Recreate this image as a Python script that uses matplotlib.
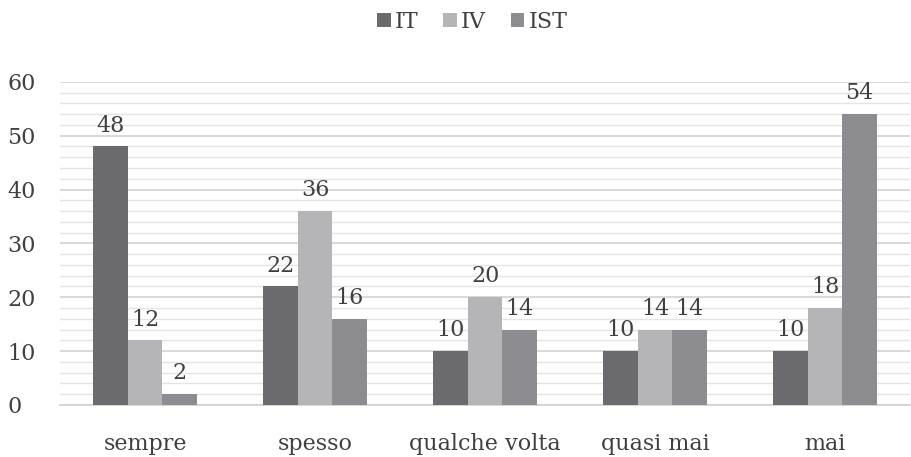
import matplotlib
matplotlib.use("Agg")
import matplotlib.pyplot as plt
import numpy as np
from matplotlib.ticker import MultipleLocator

categories = ["sempre", "spesso", "qualche volta", "quasi mai", "mai"]
series_names = ["IT", "IV", "IST"]
it_vals = [48, 22, 10, 10, 10]
iv_vals = [12, 36, 20, 14, 18]
ist_vals = [2, 16, 14, 14, 54]
colors = ["#6a6a6f", "#b5b5b8", "#8d8d91"]

plt.rcParams['font.family'] = ['DejaVu Serif']

fig = plt.figure(figsize=(9.12, 4.57), dpi=100)
ax = fig.add_axes([0.066, 0.114, 0.932, 0.707])

x = np.arange(len(categories))
w = 0.203
for i, (vals, name, c) in enumerate(zip([it_vals, iv_vals, ist_vals], series_names, colors)):
    pos = x + (i - 1) * w
    bars = ax.bar(pos, vals, width=w, color=c, label=name, zorder=3)
    for b, v in zip(bars, vals):
        ax.annotate(str(v), (b.get_x() + b.get_width() / 2, v), xytext=(0, 7),
                    textcoords="offset points", ha="center", va="bottom",
                    fontsize=16, color="#404040", zorder=4)

ax.set_xlim(-0.5, len(categories) - 0.5)
ax.set_ylim(0, 60)
ax.yaxis.set_major_locator(MultipleLocator(10))
ax.yaxis.set_minor_locator(MultipleLocator(2))
ax.grid(axis="y", which="major", color="#d2d2d2", linewidth=1.2, zorder=0)
ax.grid(axis="y", which="minor", color="#e4e4e4", linewidth=1.0, zorder=0)
for s in ["top", "right", "left"]:
    ax.spines[s].set_visible(False)
ax.spines["bottom"].set_color("#d0d0d0")
ax.spines["bottom"].set_linewidth(1.2)
ax.tick_params(axis="both", which="both", length=0, labelsize=16, colors="#404040")
ax.tick_params(axis="y", pad=38)
ax.tick_params(axis="x", pad=20)
ax.set_xticks(x)
ax.set_xticklabels(categories)
for lab in ax.get_yticklabels():
    lab.set_horizontalalignment("left")

leg = fig.legend(loc="upper center", bbox_to_anchor=(0.518, 1.02), ncol=3, frameon=False,
                 fontsize=16, handlelength=0.6, handleheight=0.6, handletextpad=0.2,
                 columnspacing=1.1, labelcolor="#404040")

fig.savefig("out.png", dpi=100)
